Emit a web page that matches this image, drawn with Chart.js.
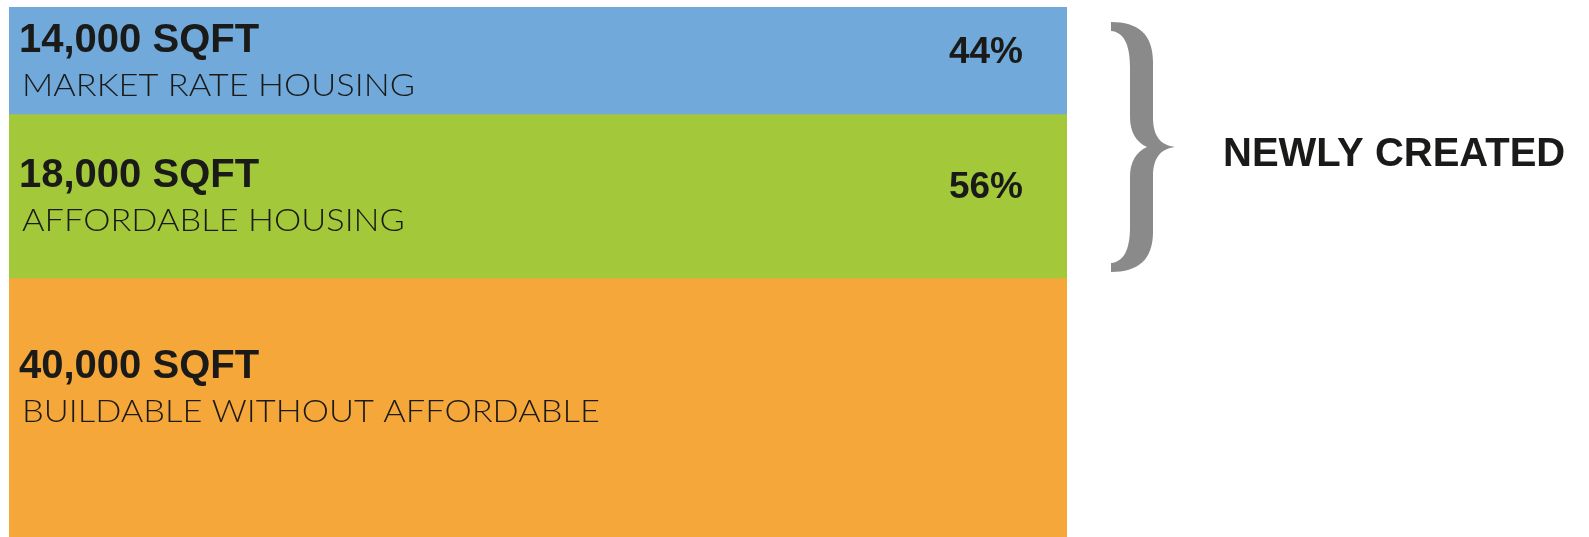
<!DOCTYPE html>
<html>
<head>
<meta charset="utf-8">
<script src="https://cdn.jsdelivr.net/npm/chart.js@4/dist/chart.umd.min.js"></script>
<style>
  html, body { margin: 0; padding: 0; background: #ffffff; }
  #wrap { width: 1589px; height: 537px; position: relative; }
</style>
</head>
<body>
<div id="wrap"><canvas id="c" width="1589" height="537"></canvas></div>
<script>
// ---- data ----
const categories = ['MARKET RATE HOUSING', 'AFFORDABLE HOUSING', 'BUILDABLE WITHOUT AFFORDABLE'];
const sqft = [14000, 18000, 40000];
const newlyCreated = [true, true, false];
const colors = ['#70a9da', '#a3c93b', '#f6a73a'];
const braceLabel = 'NEWLY CREATED';

const fmt = n => n.toLocaleString('en-US') + ' SQFT';
const newTotal = sqft.reduce((s, v, i) => s + (newlyCreated[i] ? v : 0), 0);

const TEXT = '#1a1a18';
const BOLD = '"Liberation Sans", Arial, sans-serif';
const LIGHT = 'Lato, "Open Sans", "DejaVu Sans", sans-serif';

const labelPlugin = {
  id: 'segLabels',
  afterDatasetsDraw(chart) {
    const ctx = chart.ctx;
    const area = chart.chartArea;
    ctx.save();
    ctx.font = '300 32px ' + LIGHT;
    const stretch = 393 / ctx.measureText(categories[0]).width;
    let braceTop = null, braceBottom = null, barRight = 0;
    chart.data.datasets.forEach((ds, i) => {
      const el = chart.getDatasetMeta(i).data[0];
      if (!el) return;
      const top = Math.max(Math.min(el.y, el.base), area.top);
      const bot = Math.min(Math.max(el.y, el.base), area.bottom);
      const h = bot - top;
      const c = top + Math.min(h, 218) / 2;
      const left = el.x - el.width / 2;
      const right = el.x + el.width / 2;
      barRight = right;
      ctx.fillStyle = TEXT;
      ctx.textBaseline = 'alphabetic';
      ctx.textAlign = 'left';
      ctx.font = 'bold 40px ' + BOLD;
      ctx.fillText(fmt(sqft[i]), left + 10, c - 9);
      ctx.save();
      ctx.translate(left + 13, c + 35);
      ctx.scale(stretch, 1);
      ctx.font = '300 32px ' + LIGHT;
      ctx.fillText(categories[i], 0, 0);
      ctx.restore();
      if (newlyCreated[i]) {
        const pct = Math.round(sqft[i] / newTotal * 100) + '%';
        ctx.font = 'bold 37px ' + BOLD;
        ctx.textAlign = 'right';
        ctx.fillText(pct, right - 44, c + 2);
        if (braceTop === null) braceTop = top;
        braceBottom = bot;
      }
    });
    if (braceTop !== null) {
      const x0 = barRight + 44;
      const t = braceTop + 15;
      const b = braceBottom - 6;
      const H = (b - t) / 2;
      const k = H / 125;
      const half = (sign, originY) => {
        const P = (u, v) => [x0 + u, originY + sign * v * k];
        ctx.beginPath();
        ctx.moveTo(...P(0, 0));
        ctx.bezierCurveTo(...P(27, 0), ...P(42, 12), ...P(42, 40));
        ctx.lineTo(...P(42, 95));
        ctx.bezierCurveTo(...P(42, 115), ...P(50, 123), ...P(64, 125));
        ctx.lineTo(...P(36, 125));
        ctx.bezierCurveTo(...P(25, 120), ...P(19, 110), ...P(19, 95));
        ctx.lineTo(...P(19, 45));
        ctx.bezierCurveTo(...P(19, 21), ...P(12, 10), ...P(0, 9));
        ctx.closePath();
        ctx.fill();
      };
      ctx.fillStyle = '#8a8a8a';
      half(1, t);
      half(-1, b);
      ctx.fillStyle = TEXT;
      ctx.textAlign = 'left';
      ctx.font = 'bold 40px ' + BOLD;
      ctx.fillText(braceLabel, x0 + 112, t + H + 19);
    }
    ctx.restore();
  }
};

new Chart(document.getElementById('c'), {
  type: 'bar',
  data: {
    labels: ['Floor area'],
    datasets: categories.map((name, i) => ({
      label: name,
      data: [sqft[i]],
      backgroundColor: colors[i],
      borderWidth: 0,
      barPercentage: 1,
      categoryPercentage: 1,
      clip: 0
    }))
  },
  options: {
    responsive: false,
    animation: false,
    layout: { padding: { left: 9, right: 522, top: 7, bottom: 0 } },
    plugins: { legend: { display: false }, tooltip: { enabled: false } },
    scales: {
      x: { stacked: true, display: false, grid: { display: false } },
      y: { stacked: true, display: false, reverse: true, min: 2255, max: 60430, grid: { display: false } }
    }
  },
  plugins: [labelPlugin]
});
</script>
</body>
</html>
